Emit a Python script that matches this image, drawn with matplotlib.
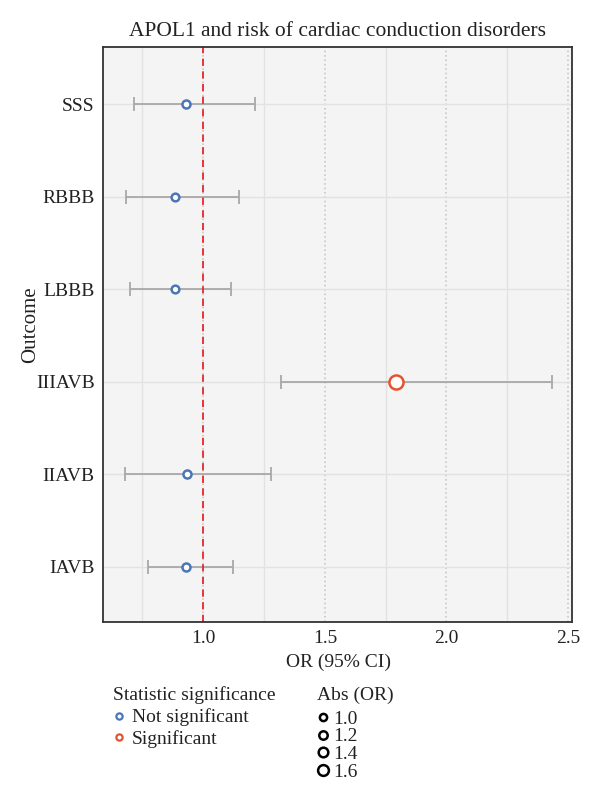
import numpy as np
import matplotlib.pyplot as plt
from matplotlib.lines import Line2D

plt.rcParams['font.family'] = ['Liberation Serif', 'DejaVu Serif']

outcomes = ['IAVB', 'IIAVB', 'IIIAVB', 'LBBB', 'RBBB', 'SSS']
odds_ratio = [0.93, 0.934, 1.793, 0.885, 0.885, 0.931]
ci_low = [0.774, 0.68, 1.321, 0.70, 0.682, 0.716]
ci_high = [1.123, 1.28, 2.435, 1.115, 1.147, 1.214]
significant = [False, False, True, False, False, False]
size_levels = [1.0, 1.2, 1.4, 1.6]

blue = '#4a76b5'
red = '#e4532f'
txt = '#222222'


def msize(v):
    # marker diameter (points) from abs(OR)
    return (7.0 * v + 1.5) * 0.72


fig = plt.figure(figsize=(6, 7.97), dpi=100)
ax = fig.add_axes([0.1717, 0.2196, 0.7816, 0.7214])
ax.set_facecolor('#f4f4f4')

y = np.arange(1, len(outcomes) + 1)
or_arr = np.array(odds_ratio)
ax.errorbar(or_arr, y, xerr=[or_arr - np.array(ci_low), np.array(ci_high) - or_arr],
            fmt='none', ecolor='#a8a8a8', elinewidth=1.3, capsize=5, capthick=1.3, zorder=2)
for xi, yi, sig in zip(odds_ratio, y, significant):
    ax.plot(xi, yi, 'o', mfc='white', mec=red if sig else blue,
            ms=msize(abs(xi)), mew=1.8, zorder=3)

ax.axvline(1.0, color='#e8262b', ls=(0, (4, 3)), lw=1.3, zorder=2.5)

ax.set_xlim(0.588, 2.516)
ax.set_ylim(0.4, 6.62)
ax.set_xticks([1.0, 1.5, 2.0, 2.5])
ax.set_xticks([0.75, 1.25, 1.75, 2.25], minor=True)
ax.set_yticks(y)
ax.set_yticklabels(outcomes)
ax.grid(which='major', axis='x', color='#c8c8c8', ls=':', lw=1.2)
ax.grid(which='minor', axis='x', color='#e2e2e2', ls='-', lw=1)
ax.grid(which='major', axis='y', color='#e2e2e2', ls='-', lw=1)
ax.set_axisbelow(True)
ax.tick_params(axis='both', which='both', length=0, labelsize=14, colors=txt, pad=6)
for s in ax.spines.values():
    s.set_color('#333333')
    s.set_linewidth(1.3)

ax.set_xlabel('OR (95% CI)', fontsize=14, color=txt)
ax.xaxis.set_label_coords(0.502, -0.056)
ax.set_ylabel('Outcome', fontsize=15, color=txt)
ax.yaxis.set_label_coords(-0.135, 0.517)
ax.set_title('APOL1 and risk of cardiac conduction disorders', fontsize=15.5,
             color=txt, y=1.019, pad=0)

# legend: significance
fig.text(113 / 600, 1 - 695 / 797, 'Statistic significance', fontsize=14, color=txt, va='center')
sig_handles = [Line2D([], [], ls='none', marker='o', mfc='white', mec=blue, ms=4.5, mew=1.6),
               Line2D([], [], ls='none', marker='o', mfc='white', mec=red, ms=4.5, mew=1.6)]
leg1 = fig.legend(sig_handles, ['Not significant', 'Significant'],
                  loc='upper left', bbox_to_anchor=(0.185, 0.111), frameon=False,
                  fontsize=14, handlelength=0.8, handletextpad=0.28,
                  labelspacing=0.18, borderaxespad=0, borderpad=0)
for t in leg1.get_texts():
    t.set_color(txt)

# legend: abs(OR) sizes
fig.text(317 / 600, 1 - 695 / 797, 'Abs (OR)', fontsize=14, color=txt, va='center')
size_handles = [Line2D([], [], ls='none', marker='o', mfc='white', mec='black',
                       ms=msize(v) * 0.85, mew=1.8) for v in size_levels]
leg2 = fig.legend(size_handles, [f'{v:.1f}' for v in size_levels],
                  loc='upper left', bbox_to_anchor=(0.525, 0.109), frameon=False,
                  fontsize=14, handlelength=0.8, handletextpad=0.13,
                  labelspacing=0.0, borderaxespad=0, borderpad=0)
for t in leg2.get_texts():
    t.set_color(txt)

fig.savefig('out.png', dpi=100)
